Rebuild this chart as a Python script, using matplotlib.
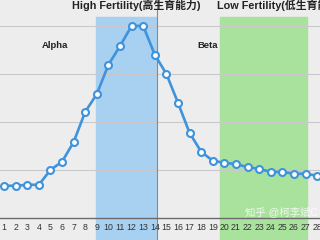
import matplotlib
matplotlib.use('Agg')
import matplotlib.pyplot as plt

plt.rcParams['font.family'] = ['Liberation Sans', 'Noto Sans CJK SC', 'DejaVu Sans']

# cycle day vs. relative level
days = list(range(1, 29))
level = [0.67, 0.67, 0.69, 0.69, 1.00, 1.17, 1.58, 2.21, 2.58, 3.19,
         3.58, 4.00, 4.00, 3.40, 3.00, 2.40, 1.77, 1.38, 1.19, 1.15,
         1.12, 1.06, 1.02, 0.96, 0.96, 0.92, 0.92, 0.88]

high_span = (8.9, 14.1)
low_span = (19.6, 27.1)
split_day = 14.2

fig = plt.figure(figsize=(3.2, 2.4), dpi=100)
fig.patch.set_facecolor('#ededee')
ax = fig.add_axes([0, 0, 1, 1])
ax.set_facecolor('#ededee')
ax.set_xlim(0.65, 28.25)
ax.set_ylim(-0.46, 4.54)
for s in ax.spines.values():
    s.set_visible(False)
ax.set_xticks([])
ax.set_yticks([])

# grid + axis
for g in [1, 2, 3, 4]:
    ax.axhline(g, color='#c9c9cb', lw=0.8, zorder=1)
ax.axhline(0, color='#6b6b6e', lw=1.0, zorder=3)

# fertility windows
ax.axvspan(*high_span, ymin=0, ymax=0.93, color='#a8d0f0', zorder=0)
ax.axvspan(*low_span, ymin=0, ymax=0.93, color='#a9e29c', zorder=0)
ax.axvline(split_day, color='#8a8a8e', lw=0.8, zorder=2)

ax.plot(days, level, color='#3f93dc', lw=1.9, marker='o', ms=5,
        mfc='white', mec='#3f93dc', mew=1.5, zorder=4)

for d in days:
    ax.text(d, -0.21, str(d), ha='center', va='center', fontsize=6.3,
            color='#333333')

ax.text(6.85, 4.42, 'High Fertility(高生育能力)', ha='left', va='center',
        fontsize=7.8, fontweight='bold', color='#222222')
ax.text(19.4, 4.42, 'Low Fertility(低生育能力)', ha='left', va='center',
        fontsize=7.8, fontweight='bold', color='#222222')
ax.text(5.4, 3.6, 'Alpha', ha='center', va='center', fontsize=6.8,
        fontweight='bold', color='#222222')
ax.text(18.6, 3.6, 'Beta', ha='center', va='center', fontsize=6.8,
        fontweight='bold', color='#222222')

ax.text(21.8, 0.12, '知乎 @柯李斌C', ha='left', va='center', fontsize=7.5,
        color='white', alpha=0.8, zorder=5)

fig.savefig('out.png', dpi=100, facecolor=fig.get_facecolor())
